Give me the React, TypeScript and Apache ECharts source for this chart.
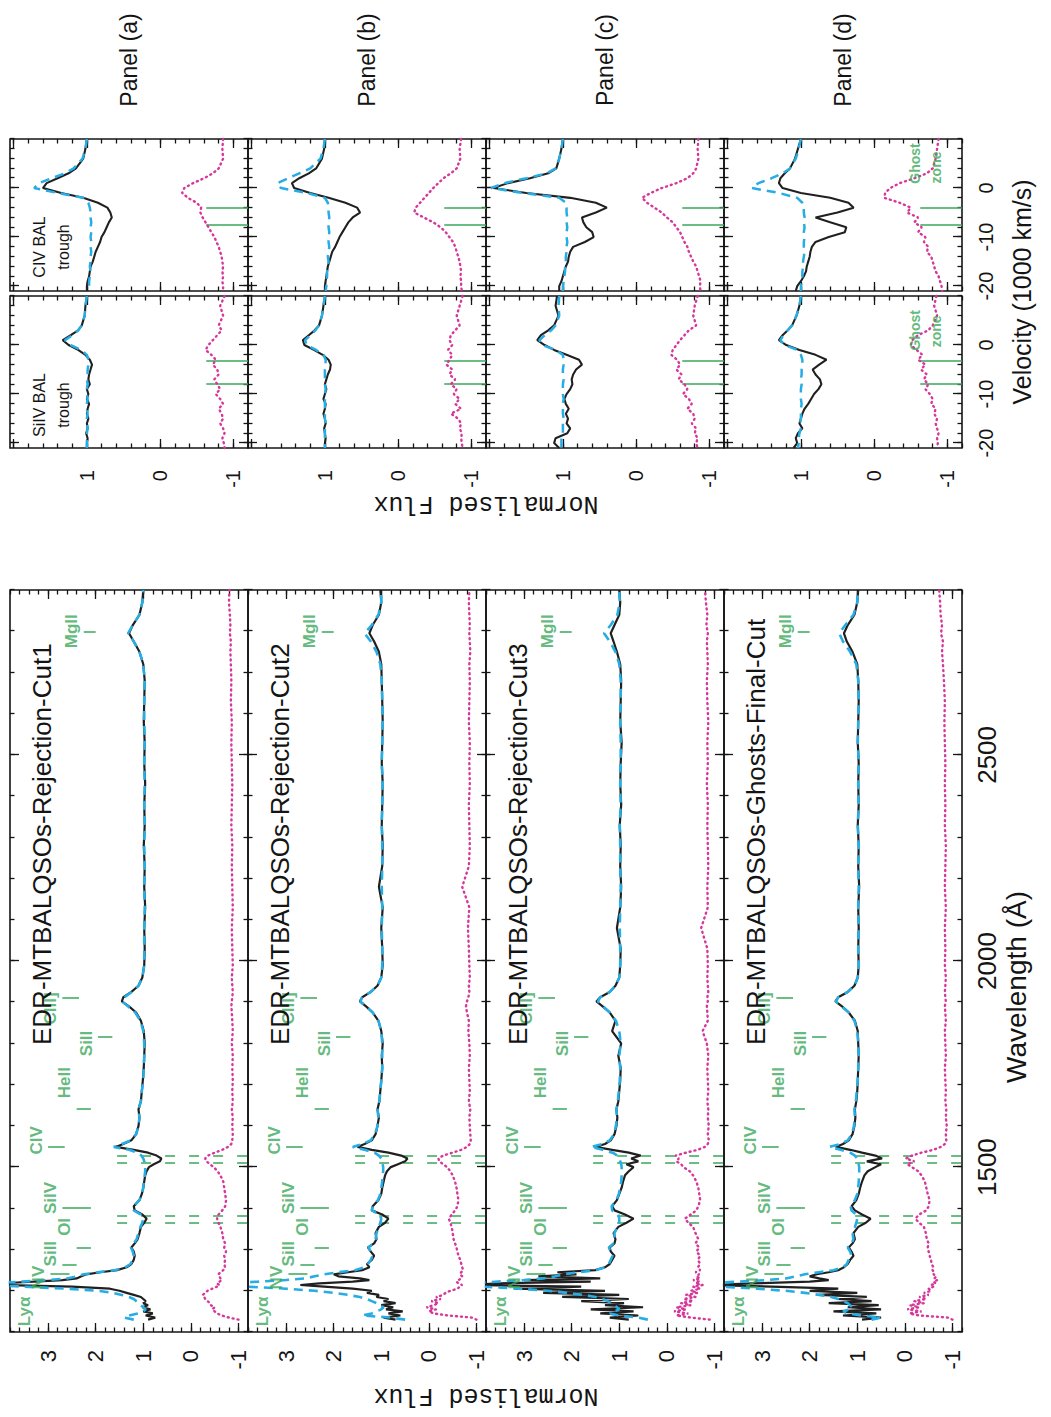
import React, { useEffect, useRef } from 'react';
import * as echarts from 'echarts';

// ---------------------------------------------------------------------------
// Rest-frame wavelength sampling (Å) shared by the four composite spectra
// ---------------------------------------------------------------------------
const wave = [
  1130, 1135, 1140, 1145, 1150, 1155, 1160, 1165, 1170, 1175, 1180, 1185, 1190, 1195, 1200, 1205, 1210,
  1214, 1218, 1222, 1226, 1230, 1235, 1240, 1245, 1250, 1257, 1265,
  1275, 1285, 1295, 1305, 1315, 1325, 1340, 1355, 1365, 1375, 1385, 1395, 1405,
  1420, 1435, 1450, 1465, 1480, 1490, 1500, 1507, 1514, 1521, 1528, 1535, 1542, 1549, 1556, 1565,
  1580, 1600, 1620, 1640, 1660, 1685,
  1710, 1740, 1770, 1800, 1830, 1855, 1875, 1890, 1902, 1912, 1925, 1940, 1960, 1990,
  2030, 2080, 2130, 2180, 2230, 2280, 2330, 2380, 2430, 2480, 2530, 2580, 2630, 2680,
  2720, 2750, 2775, 2795, 2815, 2840, 2870, 2900,
];

// Rejection-Cut1: composite (solid), comparison composite (dashed), difference (dotted)
const cut1Flux = [
  0.9, 0.75, 0.95, 0.8, 1.0, 0.85, 1.02, 0.9, 1.0, 0.95, 1.0, 1.05, 1.2, 1.35, 1.5, 1.7, 2.5,
  3.9, 4.0, 3.3, 2.7, 2.4, 2.3, 2.2, 1.9, 1.55, 1.35, 1.25,
  1.2, 1.18, 1.2, 1.25, 1.18, 1.12, 1.08, 1.05, 0.98, 0.93, 1.02, 1.18, 1.2,
  1.08, 1.03, 1.0, 0.98, 0.96, 0.93, 0.88, 0.78, 0.65, 0.62, 0.72, 0.9, 1.2, 1.58, 1.42, 1.25,
  1.15, 1.1, 1.08, 1.1, 1.05, 1.03,
  1.01, 0.99, 0.98, 0.97, 0.99, 1.05, 1.15, 1.3, 1.45, 1.42, 1.25, 1.1, 1.02, 0.98,
  0.97, 0.98, 0.96, 0.98, 0.97, 0.99, 0.97, 0.98, 0.96, 0.98, 0.97, 0.99, 0.98, 0.97,
  1.0, 1.08, 1.2, 1.3, 1.22, 1.08, 1.02, 1.0,
];
const cut1Ref = [
  1.2, 1.4, 1.3, 1.1, 1.0, 0.95, 1.0, 1.05, 1.1, 1.15, 1.2, 1.3, 1.45, 1.65, 1.95, 2.6, 3.5,
  4.2, 4.2, 3.6, 3.0, 2.6, 2.4, 2.25, 1.95, 1.6, 1.38, 1.27,
  1.22, 1.2, 1.22, 1.26, 1.2, 1.14, 1.1, 1.06, 1.02, 1.0, 1.05, 1.2, 1.2,
  1.08, 1.03, 1.0, 0.99, 0.97, 0.96, 0.96, 0.97, 0.98, 1.0, 1.04, 1.12, 1.3, 1.62, 1.45, 1.26,
  1.15, 1.1, 1.08, 1.1, 1.05, 1.03,
  1.0, 0.99, 0.98, 0.98, 1.0, 1.06, 1.17, 1.32, 1.45, 1.4, 1.24, 1.1, 1.02, 0.98,
  0.98, 0.98, 0.97, 0.98, 0.97, 0.98, 0.97, 0.98, 0.97, 0.98, 0.97, 0.98, 0.98, 0.97,
  1.0, 1.08, 1.2, 1.32, 1.22, 1.08, 1.02, 1.0,
];
const cut1Diff = [
  -1.0, -0.8, -0.65, -0.55, -0.5, -0.45, -0.5, -0.42, -0.4, -0.35, -0.3, -0.28, -0.25, -0.3, -0.35, -0.45, -0.55,
  -0.6, -0.55, -0.6, -0.65, -0.62, -0.6, -0.58, -0.62, -0.68, -0.72, -0.7,
  -0.72, -0.7, -0.74, -0.7, -0.72, -0.68, -0.66, -0.62, -0.58, -0.55, -0.58, -0.66, -0.72,
  -0.74, -0.72, -0.7, -0.68, -0.62, -0.56, -0.48, -0.4, -0.33, -0.3, -0.36, -0.5, -0.66, -0.78, -0.85, -0.87,
  -0.88, -0.87, -0.88, -0.86, -0.88, -0.87,
  -0.88, -0.87, -0.88, -0.86, -0.88, -0.87, -0.86, -0.85, -0.86, -0.87, -0.88, -0.87, -0.86, -0.88,
  -0.87, -0.86, -0.88, -0.87, -0.86, -0.87, -0.85, -0.86, -0.87, -0.86, -0.85, -0.86, -0.84, -0.85,
  -0.84, -0.83, -0.84, -0.82, -0.83, -0.82, -0.8, -0.81,
];

// Rejection-Cut2
const cut2Flux = [
  0.7, 0.95, 0.6, 0.85, 0.55, 0.9, 0.75, 1.0, 0.7, 0.95, 0.85, 1.1, 1.05, 1.3, 1.2, 1.6, 2.2,
  2.7, 2.3, 1.6, 1.25, 1.45, 1.9, 2.0, 1.7, 1.4, 1.25, 1.3,
  1.2, 1.15, 1.22, 1.28, 1.15, 1.1, 1.12, 1.05, 0.92, 0.85, 0.98, 1.2, 1.18,
  1.06, 1.0, 0.98, 0.95, 0.92, 0.88, 0.8, 0.65, 0.5, 0.45, 0.58, 0.85, 1.2, 1.5, 1.35, 1.2,
  1.12, 1.08, 1.05, 1.08, 1.04, 1.02,
  1.0, 0.98, 0.99, 0.97, 1.0, 1.06, 1.18, 1.32, 1.45, 1.4, 1.22, 1.08, 1.0, 0.97,
  0.98, 1.0, 0.97, 1.05, 0.98, 0.97, 0.99, 0.98, 0.97, 0.99, 0.98, 0.97, 0.98, 0.99,
  1.0, 1.05, 1.15, 1.25, 1.18, 1.05, 1.0, 1.02,
];
const cut2Ref = [
  0.5, 0.8, 1.4, 1.2, 1.1, 1.0, 0.95, 1.05, 1.1, 1.2, 1.3, 1.45, 1.7, 2.0, 2.4, 3.0, 3.8,
  4.3, 4.2, 3.6, 3.0, 2.6, 2.4, 2.2, 1.9, 1.55, 1.35, 1.28,
  1.22, 1.18, 1.22, 1.27, 1.17, 1.12, 1.1, 1.05, 1.02, 1.0, 1.04, 1.2, 1.18,
  1.07, 1.02, 1.0, 0.98, 0.97, 0.96, 0.96, 0.97, 0.98, 1.0, 1.05, 1.14, 1.35, 1.6, 1.4, 1.22,
  1.13, 1.08, 1.06, 1.08, 1.04, 1.02,
  1.0, 0.98, 0.98, 0.98, 1.0, 1.06, 1.18, 1.32, 1.44, 1.4, 1.22, 1.08, 1.0, 0.98,
  0.98, 0.99, 0.98, 0.99, 0.98, 0.98, 0.99, 0.98, 0.97, 0.99, 0.98, 0.97, 0.98, 0.99,
  1.02, 1.1, 1.22, 1.35, 1.2, 1.06, 1.0, 1.0,
];
const cut2Diff = [
  -1.0, -0.9, -0.4, -0.1, 0.0, -0.15, 0.05, -0.1, -0.2, -0.05, -0.25, -0.15, -0.3, -0.35, -0.45, -0.6, -0.65,
  -0.7, -0.62, -0.58, -0.62, -0.68, -0.7, -0.65, -0.68, -0.72, -0.7, -0.68,
  -0.66, -0.62, -0.6, -0.58, -0.55, -0.52, -0.5, -0.48, -0.45, -0.42, -0.48, -0.55, -0.6,
  -0.62, -0.6, -0.58, -0.55, -0.5, -0.45, -0.38, -0.3, -0.22, -0.2, -0.3, -0.5, -0.68, -0.8, -0.86, -0.88,
  -0.87, -0.86, -0.85, -0.87, -0.84, -0.86,
  -0.85, -0.84, -0.86, -0.85, -0.83, -0.84, -0.8, -0.78, -0.8, -0.83, -0.85, -0.84, -0.86, -0.85,
  -0.84, -0.82, -0.85, -0.7, -0.84, -0.86, -0.85, -0.84, -0.86, -0.85, -0.86, -0.84, -0.85, -0.86,
  -0.85, -0.87, -0.86, -0.85, -0.86, -0.85, -0.84, -0.85,
];

// Rejection-Cut3
const cut3Flux = [
  0.8, 1.2, 0.6, 1.4, 0.7, 1.6, 0.5, 1.3, 0.9, 1.8, 0.8, 2.2, 1.0, 2.6, 1.3, 3.2, 1.8,
  4.2, 3.5, 1.6, 3.0, 1.4, 2.7, 1.9, 2.3, 1.5, 1.3, 1.2,
  1.15, 1.1, 1.18, 1.2, 1.1, 1.08, 1.12, 1.02, 0.85, 0.7, 0.88, 1.1, 1.15,
  1.05, 1.0, 0.95, 0.92, 0.88, 0.8, 0.7, 0.85, 0.6, 0.75, 0.55, 0.8, 1.15, 1.5, 1.3, 1.18,
  1.1, 1.06, 1.04, 1.06, 1.02, 1.0,
  0.98, 0.97, 1.02, 0.96, 1.15, 1.08, 1.2, 1.35, 1.48, 1.4, 1.2, 1.08, 1.0, 0.98,
  0.97, 1.05, 0.98, 0.96, 0.98, 0.97, 0.99, 0.96, 0.98, 0.97, 0.95, 0.98, 0.97, 0.96,
  0.98, 1.05, 1.12, 1.18, 1.1, 1.0, 0.98, 1.0,
];
const cut3Ref = [
  0.4, 0.6, 1.0, 1.2, 1.1, 1.0, 1.05, 1.1, 1.15, 1.25, 1.35, 1.5, 1.75, 2.1, 2.5, 3.1, 3.9,
  4.3, 4.2, 3.6, 3.0, 2.6, 2.35, 2.15, 1.85, 1.5, 1.3, 1.22,
  1.18, 1.14, 1.18, 1.22, 1.12, 1.1, 1.1, 1.04, 1.0, 1.0, 1.02, 1.15, 1.16,
  1.06, 1.01, 0.98, 0.96, 0.95, 0.95, 0.95, 0.96, 0.98, 1.0, 1.04, 1.14, 1.35, 1.6, 1.35, 1.2,
  1.11, 1.07, 1.05, 1.06, 1.03, 1.01,
  0.99, 0.98, 1.0, 0.97, 1.0, 1.07, 1.2, 1.34, 1.45, 1.4, 1.2, 1.08, 1.0, 0.98,
  0.98, 0.99, 0.98, 0.97, 0.98, 0.98, 0.99, 0.97, 0.98, 0.97, 0.97, 0.98, 0.97, 0.97,
  1.0, 1.08, 1.2, 1.32, 1.18, 1.04, 0.99, 1.0,
];
const cut3Diff = [
  -0.9, -0.5, -0.2, -0.45, -0.15, -0.4, -0.2, -0.5, -0.3, -0.55, -0.35, -0.6, -0.4, -0.65, -0.5, -0.7, -0.55,
  -0.75, -0.6, -0.7, -0.55, -0.7, -0.62, -0.68, -0.6, -0.7, -0.65, -0.7,
  -0.65, -0.7, -0.62, -0.68, -0.6, -0.66, -0.6, -0.55, -0.45, -0.38, -0.5, -0.62, -0.66,
  -0.7, -0.68, -0.66, -0.62, -0.55, -0.48, -0.35, -0.3, -0.2, -0.25, -0.18, -0.4, -0.65, -0.8, -0.86, -0.88,
  -0.86, -0.88, -0.86, -0.87, -0.85, -0.87,
  -0.86, -0.85, -0.87, -0.84, -0.75, -0.86, -0.85, -0.84, -0.86, -0.85, -0.87, -0.86, -0.85, -0.86,
  -0.85, -0.72, -0.86, -0.85, -0.87, -0.86, -0.85, -0.86, -0.84, -0.86, -0.85, -0.87, -0.85, -0.84,
  -0.86, -0.85, -0.84, -0.86, -0.83, -0.85, -0.82, -0.8,
];

// Ghosts-Final-Cut
const cut4Flux = [
  0.9, 0.5, 1.3, 0.6, 1.5, 0.5, 1.2, 0.55, 1.6, 0.7, 1.4, 0.8, 1.8, 1.0, 2.0, 1.4, 2.8,
  4.1, 3.2, 2.0, 1.6, 1.8, 2.0, 1.85, 1.6, 1.4, 1.28, 1.2,
  1.15, 1.08, 1.12, 1.18, 1.1, 1.05, 1.08, 0.98, 0.82, 0.72, 0.9, 1.05, 1.12,
  1.02, 0.97, 0.94, 0.9, 0.85, 0.78, 0.62, 0.5, 0.8, 0.48, 0.62, 0.9, 1.15, 1.45, 1.3, 1.18,
  1.1, 1.06, 1.04, 1.05, 1.02, 1.0,
  0.99, 0.98, 0.97, 0.98, 0.99, 1.05, 1.18, 1.32, 1.46, 1.4, 1.2, 1.06, 0.99, 0.97,
  0.98, 0.97, 0.98, 0.96, 0.98, 0.97, 0.99, 0.97, 0.98, 0.97, 0.99, 0.98, 0.97, 0.98,
  1.0, 1.1, 1.22, 1.28, 1.2, 1.06, 1.0, 0.98,
];
const cut4Ref = [
  0.7, 0.5, 0.9, 1.2, 1.3, 1.15, 1.1, 1.15, 1.2, 1.3, 1.4, 1.55, 1.8, 2.1, 2.5, 3.1, 3.9,
  4.3, 4.2, 3.5, 2.9, 2.5, 2.3, 2.1, 1.8, 1.5, 1.3, 1.22,
  1.18, 1.12, 1.15, 1.2, 1.12, 1.08, 1.1, 1.05, 1.02, 1.0, 1.02, 1.12, 1.14,
  1.05, 1.0, 0.98, 0.97, 0.96, 0.96, 0.96, 0.97, 0.98, 1.0, 1.05, 1.15, 1.35, 1.58, 1.35, 1.2,
  1.11, 1.07, 1.05, 1.06, 1.03, 1.01,
  0.99, 0.98, 0.97, 0.98, 1.0, 1.06, 1.18, 1.33, 1.45, 1.4, 1.2, 1.06, 0.99, 0.97,
  0.98, 0.97, 0.98, 0.97, 0.98, 0.97, 0.99, 0.97, 0.98, 0.97, 0.99, 0.98, 0.97, 0.98,
  1.02, 1.15, 1.3, 1.38, 1.25, 1.08, 1.0, 0.98,
];
const cut4Diff = [
  -1.0, -0.9, -0.3, -0.1, -0.35, -0.05, -0.3, -0.1, -0.4, -0.2, -0.45, -0.3, -0.5, -0.4, -0.55, -0.5, -0.6,
  -0.55, -0.65, -0.6, -0.68, -0.62, -0.66, -0.6, -0.62, -0.58, -0.6, -0.56,
  -0.55, -0.52, -0.5, -0.48, -0.5, -0.46, -0.44, -0.4, -0.3, -0.22, -0.3, -0.45, -0.5,
  -0.52, -0.48, -0.45, -0.42, -0.35, -0.28, -0.15, -0.05, -0.2, -0.02, -0.15, -0.35, -0.6, -0.75, -0.84, -0.87,
  -0.86, -0.88, -0.86, -0.87, -0.85, -0.86,
  -0.85, -0.84, -0.86, -0.85, -0.84, -0.86, -0.85, -0.84, -0.86, -0.85, -0.84, -0.85, -0.86, -0.84,
  -0.85, -0.84, -0.86, -0.84, -0.85, -0.86, -0.84, -0.85, -0.84, -0.85, -0.84, -0.83, -0.84, -0.82,
  -0.8, -0.78, -0.8, -0.76, -0.78, -0.75, -0.74, -0.72,
];

// Emission-line identifications: label anchor (Å, flux) and rest wavelength of the tick
const lineNames = ['Lyα', 'NV', 'SiII', 'OI', 'SiIV', 'CIV', 'HeII', 'SiII', 'CIII]', 'MgII'];
const lineLabelWave = [1150, 1232, 1290, 1355, 1425, 1565, 1705, 1800, 1885, 2800];
const lineLabelFlux = [3.5, 3.2, 2.95, 2.65, 2.95, 3.25, 2.65, 2.2, 2.95, 2.5];
const lineRestWave = [1216, 1240, 1263, 1304, 1400, 1549, 1640, 1816, 1909, 2798];
const lineTickLength = [0, 0.4, 0.3, 0.3, 0.6, 0.35, 0.3, 0.3, 0.35, 0.25];

// BAL trough windows (Å) for SiIV and CIV
const balWindowWave = [1363, 1381, 1510, 1527];

// ---------------------------------------------------------------------------
// Velocity profiles (1000 km/s) around CIV and SiIV
// ---------------------------------------------------------------------------
const vel = [10, 8, 6, 4, 3, 2, 1, 0, -1, -2, -3, -4, -5, -6, -7, -8, -9, -10, -11, -12, -13, -14, -15, -16, -17, -18, -19, -20, -21];

const civFluxA = [1.0, 1.02, 1.05, 1.15, 1.25, 1.4, 1.55, 1.6, 1.35, 1.05, 0.85, 0.72, 0.68, 0.66, 0.7, 0.73, 0.76, 0.8, 0.82, 0.85, 0.88, 0.9, 0.92, 0.95, 0.96, 0.97, 0.99, 1.0, 1.0];
const civRefA = [1.0, 1.02, 1.06, 1.18, 1.3, 1.48, 1.65, 1.72, 1.4, 1.05, 0.98, 0.96, 0.95, 0.95, 0.94, 0.95, 0.94, 0.95, 0.94, 0.95, 0.94, 0.95, 0.95, 0.96, 0.95, 0.96, 0.97, 0.97, 0.98];
const civDiffA = [-0.86, -0.85, -0.86, -0.8, -0.72, -0.6, -0.45, -0.33, -0.3, -0.38, -0.5, -0.56, -0.55, -0.58, -0.62, -0.66, -0.7, -0.74, -0.77, -0.8, -0.82, -0.84, -0.85, -0.86, -0.85, -0.86, -0.85, -0.86, -0.86];

const civFluxB = [1.0, 1.01, 1.04, 1.12, 1.22, 1.35, 1.45, 1.42, 1.2, 0.95, 0.72, 0.56, 0.52, 0.62, 0.68, 0.72, 0.76, 0.8, 0.83, 0.86, 0.9, 0.92, 0.94, 0.96, 0.97, 0.98, 0.99, 1.0, 1.0];
const civRefB = [1.0, 1.02, 1.06, 1.2, 1.35, 1.5, 1.65, 1.6, 1.25, 1.0, 0.96, 0.95, 0.95, 0.94, 0.95, 0.95, 0.94, 0.95, 0.95, 0.94, 0.95, 0.96, 0.95, 0.96, 0.97, 0.97, 0.98, 0.98, 0.99];
const civDiffB = [-0.86, -0.84, -0.85, -0.8, -0.72, -0.62, -0.55, -0.48, -0.42, -0.36, -0.3, -0.24, -0.22, -0.35, -0.48, -0.58, -0.65, -0.7, -0.75, -0.78, -0.8, -0.82, -0.84, -0.85, -0.86, -0.85, -0.86, -0.86, -0.87];

const civFluxC = [1.0, 1.02, 1.05, 1.09, 1.2, 1.45, 1.75, 1.95, 1.5, 0.9, 0.55, 0.4, 0.55, 0.74, 0.72, 0.68, 0.6, 0.58, 0.7, 0.86, 0.9, 0.92, 0.93, 0.96, 0.98, 1.0, 1.02, 1.05, 1.05];
const civRefC = [1.0, 1.02, 1.05, 1.1, 1.22, 1.5, 1.8, 1.98, 1.55, 1.05, 0.96, 0.95, 0.95, 0.94, 0.95, 0.94, 0.95, 0.95, 0.94, 0.95, 0.95, 0.96, 0.96, 0.97, 0.97, 0.98, 0.99, 1.0, 1.0];
const civDiffC = [-0.85, -0.84, -0.85, -0.82, -0.78, -0.7, -0.55, -0.35, -0.2, -0.08, -0.15, -0.25, -0.35, -0.42, -0.5, -0.55, -0.6, -0.63, -0.66, -0.7, -0.72, -0.75, -0.78, -0.82, -0.84, -0.86, -0.88, -0.87, -0.88];

const civFluxD = [1.0, 1.04, 1.08, 1.15, 1.22, 1.28, 1.3, 1.25, 1.0, 0.6, 0.35, 0.28, 0.5, 0.8, 0.6, 0.38, 0.4, 0.62, 0.8, 0.85, 0.87, 0.88, 0.9, 0.92, 0.93, 0.96, 1.0, 1.05, 1.07];
const civRefD = [1.0, 1.03, 1.07, 1.15, 1.25, 1.4, 1.58, 1.67, 1.3, 1.05, 0.98, 0.96, 0.96, 0.95, 0.96, 0.95, 0.96, 0.95, 0.96, 0.96, 0.95, 0.96, 0.97, 0.97, 0.98, 0.98, 0.99, 1.0, 1.0];
const civDiffD = [-0.88, -0.86, -0.84, -0.8, -0.72, -0.55, -0.35, -0.22, -0.15, -0.14, -0.35, -0.5, -0.45, -0.6, -0.55, -0.65, -0.6, -0.7, -0.68, -0.74, -0.72, -0.78, -0.8, -0.82, -0.84, -0.88, -0.9, -0.92, -0.93];

const siFluxA = [1.0, 1.02, 1.03, 1.07, 1.12, 1.22, 1.33, 1.25, 1.12, 1.02, 0.96, 0.93, 0.95, 0.97, 0.98, 0.96, 1.0, 0.98, 1.0, 0.97, 0.99, 1.0, 0.98, 1.0, 0.99, 1.01, 0.99, 1.0, 1.0];
const siRefA = [1.0, 1.02, 1.03, 1.07, 1.12, 1.2, 1.3, 1.22, 1.08, 1.0, 0.98, 0.98, 0.99, 0.99, 1.0, 0.99, 1.0, 1.0, 0.99, 1.0, 1.0, 0.99, 1.0, 1.0, 0.99, 1.0, 1.0, 1.0, 1.0];
const siDiffA = [-0.88, -0.82, -0.86, -0.8, -0.84, -0.78, -0.72, -0.66, -0.62, -0.7, -0.76, -0.72, -0.78, -0.8, -0.74, -0.78, -0.82, -0.76, -0.82, -0.86, -0.8, -0.84, -0.86, -0.82, -0.86, -0.88, -0.85, -0.87, -0.88];

const siFluxB = [1.0, 1.02, 1.04, 1.08, 1.14, 1.22, 1.3, 1.28, 1.15, 1.03, 0.95, 0.92, 0.93, 0.96, 0.98, 1.0, 0.98, 1.0, 1.02, 0.99, 1.0, 1.02, 1.0, 0.99, 1.01, 1.0, 0.99, 1.0, 1.0];
const siRefB = [1.0, 1.02, 1.04, 1.08, 1.13, 1.2, 1.27, 1.25, 1.12, 1.02, 0.99, 0.99, 1.0, 1.0, 1.0, 1.0, 0.99, 1.0, 1.0, 1.0, 1.0, 1.0, 1.0, 0.99, 1.0, 1.0, 1.0, 1.0, 1.0];
const siDiffB = [-0.88, -0.84, -0.8, -0.84, -0.78, -0.72, -0.7, -0.74, -0.68, -0.74, -0.7, -0.66, -0.74, -0.7, -0.78, -0.72, -0.8, -0.76, -0.84, -0.78, -0.86, -0.72, -0.82, -0.86, -0.84, -0.87, -0.86, -0.87, -0.88];

const siFluxC = [1.08, 1.1, 1.06, 1.12, 1.2, 1.3, 1.35, 1.25, 1.12, 0.95, 0.78, 0.74, 0.82, 0.86, 0.88, 0.87, 0.9, 0.95, 0.98, 0.96, 0.92, 0.96, 0.93, 0.95, 0.9, 0.94, 1.1, 1.12, 1.05];
const siRefC = [1.05, 1.06, 1.05, 1.1, 1.16, 1.25, 1.32, 1.28, 1.1, 1.0, 0.99, 0.99, 1.0, 1.0, 0.99, 1.0, 1.0, 1.0, 0.99, 1.0, 1.0, 1.0, 0.99, 1.0, 1.0, 1.0, 1.02, 1.02, 1.02];
const siDiffC = [-0.84, -0.8, -0.78, -0.82, -0.72, -0.66, -0.6, -0.55, -0.5, -0.48, -0.56, -0.6, -0.55, -0.62, -0.58, -0.66, -0.7, -0.64, -0.72, -0.76, -0.7, -0.78, -0.8, -0.76, -0.82, -0.8, -0.84, -0.82, -0.84];

const siFluxD = [1.0, 1.02, 1.06, 1.12, 1.18, 1.25, 1.3, 1.2, 1.02, 0.8, 0.65, 0.75, 0.84, 0.8, 0.74, 0.72, 0.76, 0.82, 0.86, 0.9, 0.95, 0.98, 1.0, 1.02, 0.98, 1.04, 1.07, 1.05, 1.1];
const siRefD = [1.0, 1.02, 1.06, 1.12, 1.18, 1.24, 1.28, 1.22, 1.05, 1.0, 0.98, 0.98, 0.99, 0.99, 1.0, 0.99, 1.0, 1.0, 1.0, 0.99, 1.0, 1.0, 1.0, 1.01, 1.0, 1.02, 1.03, 1.03, 1.04];
const siDiffD = [-0.85, -0.82, -0.86, -0.8, -0.74, -0.6, -0.52, -0.5, -0.58, -0.66, -0.6, -0.7, -0.64, -0.72, -0.68, -0.74, -0.7, -0.76, -0.8, -0.78, -0.84, -0.82, -0.86, -0.84, -0.86, -0.88, -0.86, -0.87, -0.86];

// Ghost-zone markers (1000 km/s)
const civGhostVel = [-4.1, -7.6];
const siGhostVel = [-3.3, -8.0];
const ghostWords = ['Ghost', 'zone'];
const ghostWordFlux = [-0.56, -0.84];
const civGhostWordVel = [5, 4.2];
const siGhostWordVel = [3.0, 2.8];

const panelNames = ['Panel (a)', 'Panel (b)', 'Panel (c)', 'Panel (d)'];
const sampleNames = [
  'EDR-MTBALQSOs-Rejection-Cut1',
  'EDR-MTBALQSOs-Rejection-Cut2',
  'EDR-MTBALQSOs-Rejection-Cut3',
  'EDR-MTBALQSOs-Ghosts-Final-Cut',
];

// ---------------------------------------------------------------------------
// Figure layout (the figure is drawn landscape and turned a quarter turn)
// ---------------------------------------------------------------------------
const FIG_W = 1417;
const FIG_H = 1051;
const ROW_TOP = [10, 248, 486, 724];
const ROW_H = 238;
const MAIN_LEFT = 85;
const MAIN_W = 742;
const SI_LEFT = 969;
const CIV_LEFT = 1126;
const VEL_W = 152;

const INK = '#141414';
const BLACK = '#202020';
const CYAN = '#27ade4';
const MAGENTA = '#d6379a';
const GREEN = '#3aa85a';

function steps(from: number, to: number, step: number): number[] {
  const out: number[] = [];
  for (let v = from; v <= to + 1e-9; v += step) out.push(Math.round(v * 100) / 100);
  return out;
}

type Spec = { min: number; max: number; major: number[]; minor: number[] };
type Lab = { values: number[]; fontSize: number; margin: number } | null;

const mainX: Spec = { min: 1100, max: 2900, major: [1500, 2000, 2500], minor: steps(1100, 2900, 100) };
const mainY: Spec = { min: -1.2, max: 3.8, major: [-1, 0, 1, 2, 3], minor: steps(-1.2, 3.8, 0.2) };
const velX: Spec = { min: -21, max: 10, major: [-20, -10, 0], minor: steps(-20, 10, 2) };
const velY: Spec = { min: -1.2, max: 2.05, major: [-1, 0, 1, 2], minor: steps(-1.2, 2.0, 0.2) };

// One pair of opposite axes (e.g. bottom + top) for a grid, carrying one tick set
function axisPair(g: number, sides: string[], spec: Spec, major: boolean, lab: Lab) {
  return sides.map((side, si) => {
    const showLab = !!lab && si === 0;
    return {
      type: 'value',
      gridIndex: g,
      position: side,
      min: spec.min,
      max: spec.max,
      axisLine: { show: false, onZero: false },
      splitLine: { show: false },
      axisTick: {
        show: true,
        inside: true,
        length: major ? 9 : 4.5,
        customValues: major ? spec.major : spec.minor,
        lineStyle: { color: INK, width: 1.3 },
      },
      axisLabel: showLab
        ? {
            show: true,
            customValues: lab!.values,
            fontSize: lab!.fontSize,
            margin: lab!.margin,
            color: INK,
            fontFamily: 'Liberation Sans',
            formatter: (v: number) => String(v),
          }
        : { show: false },
    };
  });
}

function pairs(xs: number[], ys: number[]) {
  const n = Math.min(xs.length, ys.length);
  const out: number[][] = [];
  for (let i = 0; i < n; i++) out.push([xs[i], ys[i]]);
  return out;
}

function buildOption() {
  const grids: any[] = [];
  const xAxes: any[] = [];
  const yAxes: any[] = [];
  const series: any[] = [];

  // Twelve panels; each one has a framed grid (major ticks, labels, data)
  // and an unframed twin of the same size that carries the minor ticks.
  type Panel = { left: number; top: number; width: number; xs: Spec; ys: Spec; xLab: Lab; yLab: Lab };
  const panels: Panel[] = [];
  ROW_TOP.forEach((t, row) =>
    panels.push({
      left: MAIN_LEFT, top: t, width: MAIN_W, xs: mainX, ys: mainY,
      xLab: row === 3 ? { values: [1500, 2000, 2500], fontSize: 26, margin: 12 } : null,
      yLab: { values: [-1, 0, 1, 2, 3], fontSize: 22, margin: 18 },
    }),
  );
  ROW_TOP.forEach((t, row) =>
    panels.push({
      left: SI_LEFT, top: t, width: VEL_W, xs: velX, ys: velY,
      xLab: row === 3 ? { values: [-20, -10, 0], fontSize: 20, margin: 14 } : null,
      yLab: { values: [-1, 0, 1], fontSize: 20, margin: 22 },
    }),
  );
  ROW_TOP.forEach((t, row) =>
    panels.push({
      left: CIV_LEFT, top: t, width: VEL_W, xs: velX, ys: velY,
      xLab: row === 3 ? { values: [-20, -10, 0], fontSize: 20, margin: 14 } : null,
      yLab: null,
    }),
  );

  panels.forEach((p, k) => {
    const gMajor = 2 * k;
    const gMinor = 2 * k + 1;
    grids.push({ show: true, borderColor: INK, borderWidth: 1.6, backgroundColor: 'rgba(0,0,0,0)', left: p.left, top: p.top, width: p.width, height: ROW_H });
    grids.push({ show: false, left: p.left, top: p.top, width: p.width, height: ROW_H });
    xAxes.push(...axisPair(gMajor, ['bottom', 'top'], p.xs, true, p.xLab));
    yAxes.push(...axisPair(gMajor, ['left', 'right'], p.ys, true, p.yLab));
    xAxes.push(...axisPair(gMinor, ['bottom', 'top'], p.xs, false, null));
    yAxes.push(...axisPair(gMinor, ['left', 'right'], p.ys, false, null));
  });

  // data axes of panel k: x/y axis index 4k (the bottom / left major axis)
  const ax = (k: number) => ({ xAxisIndex: 4 * k, yAxisIndex: 4 * k });

  const profileSeries = (k: number, xs: number[], flux: number[], ref: number[], diff: number[], width: number) => {
    const base = { type: 'line', ...ax(k), showSymbol: false, symbol: 'none', silent: true, clip: true };
    return [
      { ...base, data: pairs(xs, diff), z: 2, lineStyle: { color: MAGENTA, width: 2.4, type: [1, 4], cap: 'round' } },
      { ...base, data: pairs(xs, flux), z: 3, lineStyle: { color: BLACK, width } },
      { ...base, data: pairs(xs, ref), z: 4, lineStyle: { color: CYAN, width: width + 0.4, type: [9, 6] } },
    ];
  };

  // Wavelength panels
  const mainData = [
    [cut1Flux, cut1Ref, cut1Diff],
    [cut2Flux, cut2Ref, cut2Diff],
    [cut3Flux, cut3Ref, cut3Diff],
    [cut4Flux, cut4Ref, cut4Diff],
  ];
  mainData.forEach(([f, r, d], k) => {
    series.push({
      type: 'lines',
      coordinateSystem: 'cartesian2d',
      ...ax(k),
      silent: true,
      z: 1,
      lineStyle: { color: GREEN, width: 1.7, type: [10, 14], opacity: 1 },
      data: balWindowWave.map((w) => ({ coords: [[w, 1.55], [w, -1.2]] })),
    });
    series.push({
      type: 'lines',
      coordinateSystem: 'cartesian2d',
      ...ax(k),
      silent: true,
      z: 1,
      lineStyle: { color: GREEN, width: 1.5, opacity: 1 },
      data: lineRestWave
        .map((w, i) => ({ w, i }))
        .filter(({ i }) => lineTickLength[i] > 0)
        .map(({ w, i }) => ({ coords: [[w, lineLabelFlux[i] - 0.25], [w, lineLabelFlux[i] - 0.25 - lineTickLength[i]]] })),
    });
    series.push({
      type: 'scatter',
      ...ax(k),
      silent: true,
      symbolSize: 1,
      itemStyle: { color: 'rgba(0,0,0,0)' },
      z: 5,
      label: {
        show: true,
        position: 'inside',
        formatter: '{b}',
        color: GREEN,
        fontSize: 17,
        fontWeight: 'bold',
        fontFamily: 'Liberation Sans Narrow, Liberation Sans',
      },
      data: lineNames.map((n, i) => ({ name: n, value: [lineLabelWave[i], lineLabelFlux[i]] })),
    });
    series.push(...profileSeries(k, wave, f, r, d, 2.2));
  });

  // Velocity panels
  const siData = [
    [siFluxA, siRefA, siDiffA],
    [siFluxB, siRefB, siDiffB],
    [siFluxC, siRefC, siDiffC],
    [siFluxD, siRefD, siDiffD],
  ];
  const civData = [
    [civFluxA, civRefA, civDiffA],
    [civFluxB, civRefB, civDiffB],
    [civFluxC, civRefC, civDiffC],
    [civFluxD, civRefD, civDiffD],
  ];
  const addVel = (k: number, d: number[][], ghostVel: number[], wordVel: number[], withWords: boolean) => {
    series.push({
      type: 'lines',
      coordinateSystem: 'cartesian2d',
      ...ax(k),
      silent: true,
      z: 1,
      lineStyle: { color: GREEN, width: 1.6, opacity: 1 },
      data: ghostVel.map((v) => ({ coords: [[v, -0.63], [v, -1.2]] })),
    });
    if (withWords) {
      series.push({
        type: 'scatter',
        ...ax(k),
        silent: true,
        symbolSize: 1,
        itemStyle: { color: 'rgba(0,0,0,0)' },
        z: 5,
        label: {
          show: true,
          position: 'inside',
          formatter: '{b}',
          color: GREEN,
          fontSize: 14,
          fontWeight: 'bold',
          fontFamily: 'Liberation Sans Narrow, Liberation Sans',
        },
        data: ghostWords.map((w, i) => ({ name: w, value: [wordVel[i], ghostWordFlux[i]] })),
      });
    }
    series.push(...profileSeries(k, vel, d[0], d[1], d[2], 2.1));
  };
  siData.forEach((d, row) => addVel(4 + row, d, siGhostVel, siGhostWordVel, row === 3));
  civData.forEach((d, row) => addVel(8 + row, d, civGhostVel, civGhostWordVel, row === 3));

  // Titles and annotations
  const center = { textAlign: 'center', textVerticalAlign: 'middle', align: 'center', verticalAlign: 'middle' };
  const graphic: any[] = [];
  panelNames.forEach((p, i) => {
    graphic.push({ type: 'text', x: 1357, y: ROW_TOP[i] + ROW_H / 2, silent: true, style: { text: p, font: '23px "Liberation Sans"', fill: INK, ...center } });
  });
  sampleNames.forEach((s, i) => {
    graphic.push({
      type: 'text',
      x: 372,
      y: ROW_TOP[i] + 32,
      silent: true,
      z: 10,
      style: { text: s, font: '26px "Liberation Sans"', fill: INK, textAlign: 'left', align: 'left', textVerticalAlign: 'middle', verticalAlign: 'middle' },
    });
  });
  graphic.push({ type: 'text', x: 430, y: 1016, silent: true, style: { text: 'Wavelength (Å)', font: '28px "Liberation Sans"', fill: INK, ...center } });
  graphic.push({ type: 'text', x: 22, y: 486, rotation: Math.PI / 2, silent: true, style: { text: 'Normalised Flux', font: '25px "Liberation Mono"', fill: INK, ...center } });
  graphic.push({ type: 'text', x: 914, y: 486, rotation: Math.PI / 2, silent: true, style: { text: 'Normalised Flux', font: '25px "Liberation Mono"', fill: INK, ...center } });
  graphic.push({ type: 'text', x: 1125, y: 1022, silent: true, style: { text: 'Velocity (1000 km/s)', font: '25px "Liberation Sans"', fill: INK, ...center } });
  graphic.push({ type: 'text', x: 1170, y: 39, silent: true, style: { text: 'CIV BAL', font: '16px "Liberation Sans"', fill: INK, ...center } });
  graphic.push({ type: 'text', x: 1170, y: 63, silent: true, style: { text: 'trough', font: '16px "Liberation Sans"', fill: INK, ...center } });
  graphic.push({ type: 'text', x: 1012, y: 39, silent: true, style: { text: 'SiIV BAL', font: '16px "Liberation Sans"', fill: INK, ...center } });
  graphic.push({ type: 'text', x: 1012, y: 63, silent: true, style: { text: 'trough', font: '16px "Liberation Sans"', fill: INK, ...center } });

  return {
    animation: false,
    backgroundColor: '#ffffff',
    textStyle: { fontFamily: 'Liberation Sans' },
    grid: grids,
    xAxis: xAxes,
    yAxis: yAxes,
    series,
    graphic,
  };
}

export default function App() {
  const ref = useRef<HTMLDivElement>(null);
  useEffect(() => {
    if (!ref.current) return;
    const chart = echarts.init(ref.current, null, { renderer: 'svg', width: FIG_W, height: FIG_H });
    chart.setOption(buildOption() as any);
    return () => chart.dispose();
  }, []);
  return (
    <div style={{ position: 'absolute', left: 0, top: 0, width: FIG_H, height: FIG_W, overflow: 'hidden', background: '#fff' }}>
      <div
        ref={ref}
        style={{
          position: 'absolute',
          left: 0,
          top: 0,
          width: FIG_W,
          height: FIG_H,
          transformOrigin: '0 0',
          transform: `translate(0px, ${FIG_W}px) rotate(-90deg)`,
        }}
      />
    </div>
  );
}
